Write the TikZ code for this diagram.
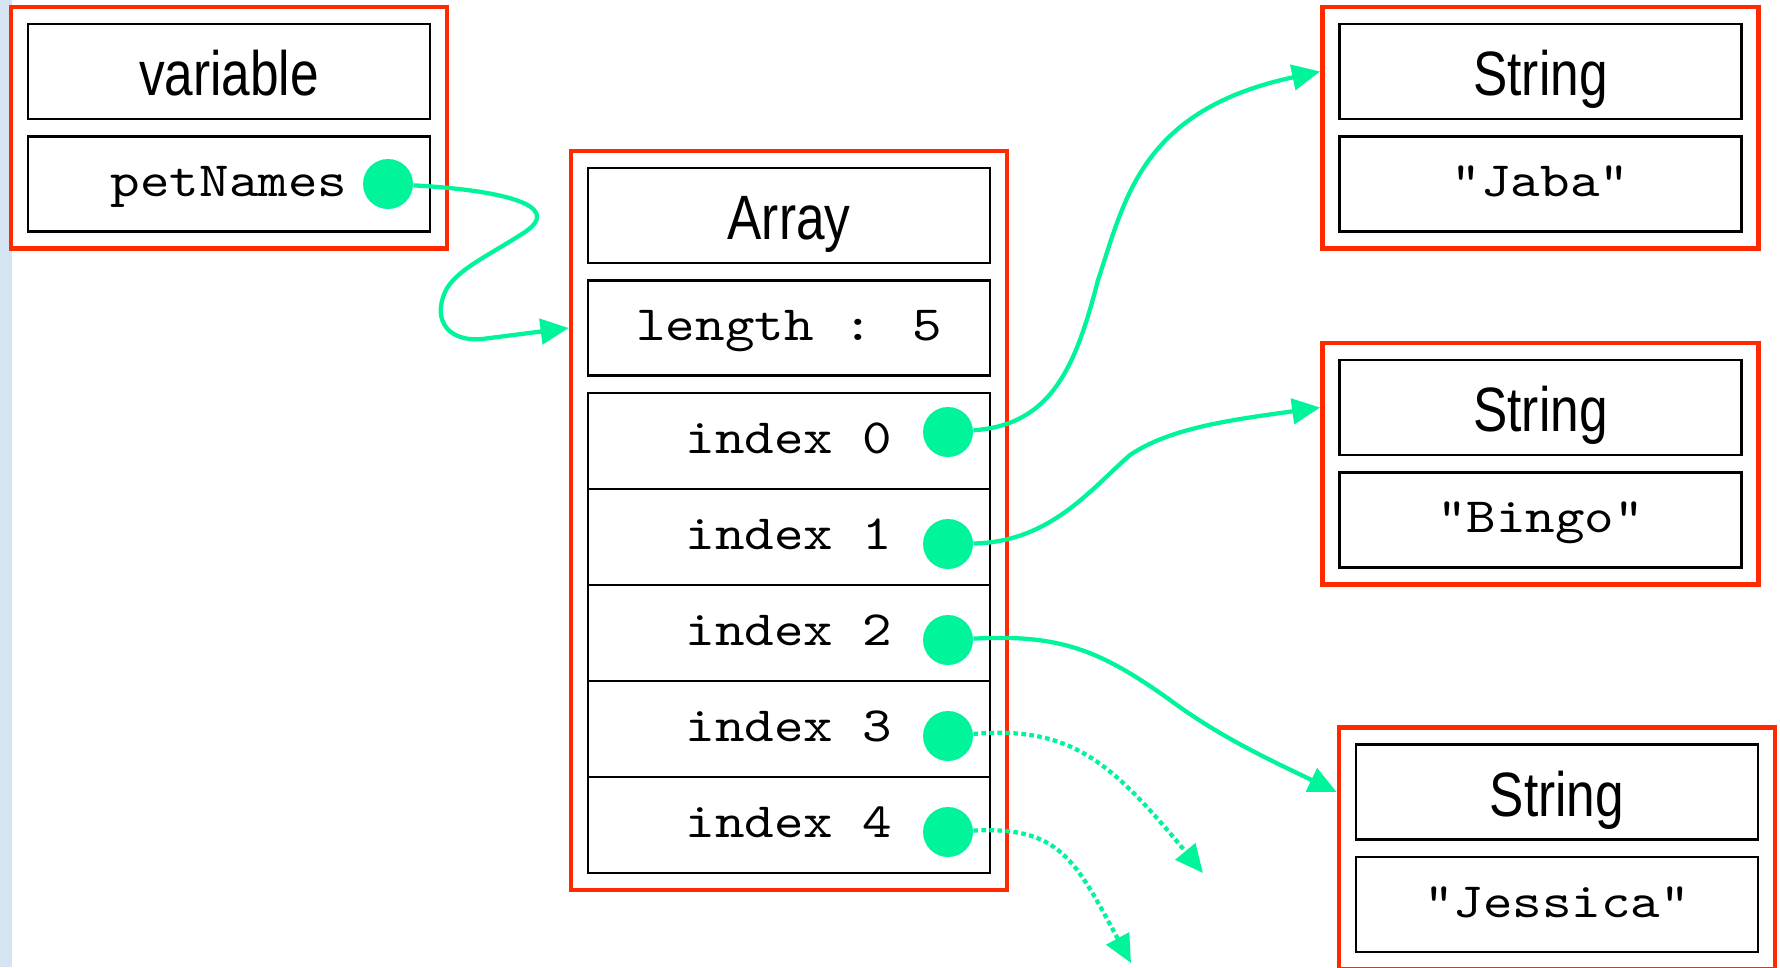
\documentclass[tikz,border=0pt]{standalone}
\usepackage{fontspec}
\usetikzlibrary{arrows.meta,fit}
\newfontfamily\narrowsans[FakeStretch=0.82]{Liberation Sans}
\newfontfamily\codefont[FakeStretch=1.14]{lmmono10-regular.otf}
\definecolor{framered}{RGB}{255,42,0}
\definecolor{ptrgreen}{RGB}{0,245,155}
\definecolor{stripblue}{RGB}{213,228,242}

\tikzset{every picture/.style={line width=0.75pt}}
\tikzset{
  typebox/.style={draw, line width=1.6pt, minimum width=301.5pt, minimum height=71.25pt, inner sep=0pt,
    font=\narrowsans\fontsize{47}{50}\selectfont, text height=36pt, text depth=0pt},
  valbox/.style={draw, line width=1.6pt, minimum width=301.5pt, minimum height=71.25pt, inner sep=0pt,
    font=\codefont\fontsize{37}{40}\selectfont, text height=18.8pt, text depth=0pt},
  rowbox/.style={valbox, minimum height=72pt},
  objframe/.style={draw=framered, line width=3.5pt, inner sep=12pt},
  ptrdot/.style={circle, fill=ptrgreen, minimum size=37.5pt, inner sep=0pt},
  ptr/.style={draw=ptrgreen, line width=3.2pt, -{Triangle[length=21pt,width=19pt]}},
  nullptr/.style={ptr, dash pattern=on 3.5pt off 2.5pt}
}

\begin{document}
\begin{tikzpicture}[x=0.75pt,y=0.75pt,yscale=-1,xscale=1]
\path[use as bounding box, fill=white] (0,0) rectangle (1780,967);
%Shape: Rectangle (side strip)
\fill[stripblue] (0,0) rectangle (12,967);

%Shape: variable object
\node[typebox] (varhdr) at (229,71.5) {variable};
\node[valbox] (varval) at (229,184) {petNames};
\node[ptrdot] (petdot) at (388,184) {};
\node[objframe, fit=(varhdr)(varval)] (varobj) {};

%Shape: Array object
\node[typebox] (arrhdr) at (789,215.5) {Array};
\node[valbox] (arrlen) at (789,328) {length : 5};
\node[rowbox] (row0) at (789,441) {index 0};
\node[rowbox] (row1) at (789,537) {index 1};
\node[rowbox] (row2) at (789,633) {index 2};
\node[rowbox] (row3) at (789,729) {index 3};
\node[rowbox] (row4) at (789,825) {index 4};
\node[ptrdot] (dot0) at (948,432) {};
\node[ptrdot] (dot1) at (948,544) {};
\node[ptrdot] (dot2) at (948,640) {};
\node[ptrdot] (dot3) at (948,736) {};
\node[ptrdot] (dot4) at (948,832) {};
\node[objframe, fit=(arrhdr)(row4)] (arrobj) {};

%Shape: String objects
\node[typebox] (strhdr1) at (1540.5,71.5) {String};
\node[valbox] (strval1) at (1540.5,184) {"Jaba"};
\node[objframe, fit=(strhdr1)(strval1)] (strobj1) {};

\node[typebox] (strhdr2) at (1540.5,407.5) {String};
\node[valbox] (strval2) at (1540.5,520) {"Bingo"};
\node[objframe, fit=(strhdr2)(strval2)] (strobj2) {};

\node[typebox] (strhdr3) at (1557,792) {String};
\node[valbox] (strval3) at (1557,904.5) {"Jessica"};
\node[objframe, fit=(strhdr3)(strval3)] (strobj3) {};

%Free ends of the empty slots
\coordinate (null3) at (1203,873);
\coordinate (null4) at (1131,963);

%Curve Lines (references)
\draw[ptr] (petdot) .. controls (500,190) and (565,205) .. (525,232) .. controls (490,255) and (455,270) .. (445,292) .. controls (432,322) and (450,342) .. (482,339) -- (arrobj.west |- arrlen);
\draw[ptr] (dot0) .. controls (1050,425) and (1075,370) .. (1098,280) .. controls (1125,200) and (1140,110) .. (strobj1.west |- strhdr1);
\draw[ptr] (dot1) .. controls (1050,542) and (1090,490) .. (1130,455) .. controls (1170,428) and (1230,420) .. (strobj2.west |- strhdr2);
\draw[ptr] (dot2) .. controls (1060,634) and (1100,650) .. (1170,700) .. controls (1220,737) and (1270,760) .. (strobj3.west |- strhdr3);
\draw[nullptr] (dot3) .. controls (1070,726) and (1110,760) .. (null3);
\draw[nullptr] (dot4) .. controls (1060,826) and (1075,860) .. (null4);

\end{tikzpicture}
\end{document}
